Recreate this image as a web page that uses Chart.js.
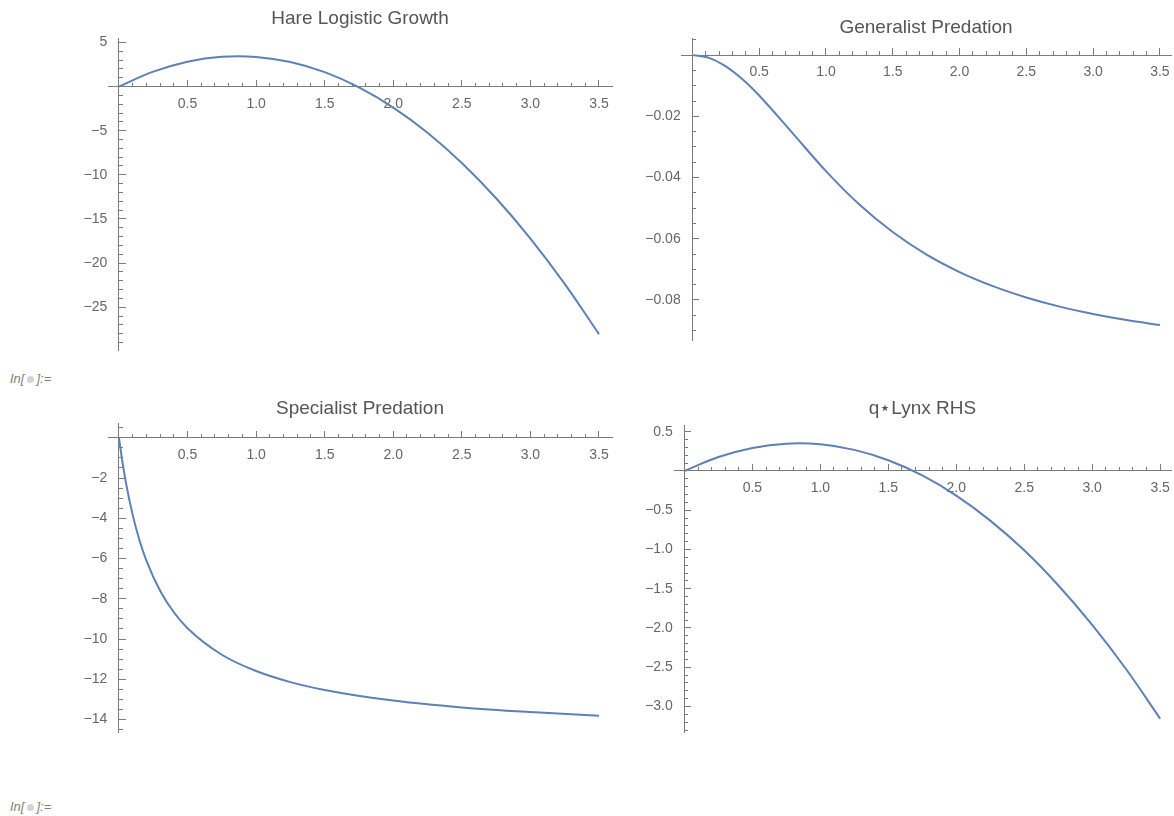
<!DOCTYPE html>
<html>
<head>
<meta charset="utf-8">
<script src="https://cdn.jsdelivr.net/npm/chart.js@4.4.1/dist/chart.umd.min.js"></script>
<style>
body { margin:0; background:#fff; width:1174px; height:816px; position:relative; overflow:hidden; font-family:"Liberation Sans", Arial, sans-serif; }
.plot { position:absolute; }
.inLabel { position:absolute; left:10px; font-size:13px; line-height:15px; font-style:italic; color:#808080; }
.inLabel i { display:inline-block; width:7px; height:7px; border-radius:50%; background:#d4d4d4; margin:0 2px 0 3px; vertical-align:0px; }
</style>
</head>
<body>
<canvas id="hare" class="plot" width="590" height="360" style="left:40px;top:0px"></canvas>
<canvas id="generalist" class="plot" width="574" height="360" style="left:620px;top:0px"></canvas>
<canvas id="specialist" class="plot" width="590" height="360" style="left:40px;top:390px"></canvas>
<canvas id="lynx" class="plot" width="574" height="360" style="left:620px;top:390px"></canvas>
<div class="inLabel" style="top:371px">In[<i></i>]:=</div>
<div class="inLabel" style="top:799px">In[<i></i>]:=</div>
<script>
// values
var xs = [0, 0.25, 0.5, 0.75, 1.0, 1.25, 1.5, 1.75, 2.0, 2.25, 2.5, 2.75, 3.0, 3.25, 3.5];
var hareGrowth = [0, 1.69, 2.82, 3.37, 3.36, 2.78, 1.63, -0.09, -2.38, -5.23, -8.66, -12.66, -17.22, -22.35, -28.05];
var generalistX = [0, 0.125, 0.25, 0.375, 0.5, 0.75, 1.0, 1.25, 1.5, 1.75, 2.0, 2.25, 2.5, 2.75, 3.0, 3.25, 3.5];
var generalistPred = [0, -0.0009, -0.0037, -0.0079, -0.0132, -0.0255, -0.0379, -0.0488, -0.0578, -0.0651, -0.0709, -0.0755, -0.0792, -0.0822, -0.0846, -0.0866, -0.0882];
var specialistX = [0, 0.025, 0.05, 0.1, 0.15, 0.2, 0.3, 0.4, 0.5, 0.75, 1.0, 1.25, 1.5, 2.0, 2.5, 3.0, 3.5];
var specialistPred = [0, -1.19, -2.2, -3.83, -5.1, -6.1, -7.6, -8.67, -9.46, -10.78, -11.59, -12.14, -12.53, -13.06, -13.4, -13.63, -13.81];
var lynxRHS = [0, 0.178, 0.294, 0.348, 0.34, 0.269, 0.137, -0.057, -0.314, -0.632, -1.01, -1.455, -1.96, -2.526, -3.155];

var fontFamily = '"Liberation Sans", Arial, sans-serif';
var axisColor = '#7b7b7b';
var labelColor = '#666666';
var lineColor = '#5e81b5';

function fmt(decimals, tail) {
    return function (v) {
        if (Math.abs(v) < 1e-9) return '';
        var s = Math.abs(v).toFixed(decimals);
        return (v < 0 ? '\u2212' + s : s) + tail;
    };
}

// role: 'labels' draws the axis line and the numbers, 'major'/'minor' only the tick marks
function axis(dir, opts, role) {
    var step = dir == 'x' ? (role == 'minor' ? 0.1 : 0.5) : (role == 'minor' ? opts.yMinorStep : opts.yStep);
    var dec = dir == 'x' ? 1 : opts.yDec;
    var isLabels = role == 'labels';
    return {
        type: 'linear',
        axis: dir,
        min: opts[dir + 'Min'],
        max: opts[dir + 'Max'],
        position: dir == 'x' ? {y: 0} : {x: 0},
        ticks: {
            stepSize: step,
            includeBounds: false,
            autoSkip: false,
            maxRotation: 0,
            display: isLabels,
            color: labelColor,
            font: {family: fontFamily, size: 14},
            padding: 0,
            callback: fmt(dec, dir == 'y' ? '\u2002\u2004' : '')
        },
        grid: {
            display: !isLabels,
            drawOnChartArea: false,
            drawTicks: true,
            tickLength: isLabels ? 9 : (role == 'major' ? -7 : -4),
            tickColor: axisColor,
            tickWidth: 1
        },
        border: {display: isLabels, color: axisColor, width: 1}
    };
}

function makePlot(id, title, xVals, yVals, opts) {
    var pts = xVals.map(function (x, i) { return {x: x, y: yVals[i]}; });
    return new Chart(document.getElementById(id), {
        type: 'line',
        data: {
            datasets: [{
                data: pts,
                borderColor: lineColor,
                borderWidth: 2,
                pointRadius: 0,
                fill: false,
                tension: 0.4,
                cubicInterpolationMode: opts.mono ? 'monotone' : 'default'
            }]
        },
        options: {
            responsive: false,
            animation: false,
            events: [],
            layout: {padding: opts.pad},
            plugins: {
                legend: {display: false},
                tooltip: {enabled: false},
                title: {
                    display: true,
                    text: title,
                    color: '#555555',
                    font: {family: fontFamily, size: 19, weight: 'normal', lineHeight: 1},
                    padding: opts.titlePad
                }
            },
            scales: {
                x: axis('x', opts, 'labels'),
                xMajor: axis('x', opts, 'major'),
                xMinor: axis('x', opts, 'minor'),
                y: axis('y', opts, 'labels'),
                yMajor: axis('y', opts, 'major'),
                yMinor: axis('y', opts, 'minor')
            }
        }
    });
}

makePlot('hare', 'Hare Logistic Growth', xs, hareGrowth, {
    xMin: -0.08, xMax: 3.595, yMin: -29.85, yMax: 5.5,
    yStep: 5, yMinorStep: 1, yDec: 0,
    pad: {left: 68, right: 18, top: 0, bottom: 10},
    titlePad: {top: 9, bottom: 10}
});
makePlot('generalist', 'Generalist Predation', generalistX, generalistPred, {
    xMin: -0.085, xMax: 3.583, yMin: -0.0931, yMax: 0.0056,
    yStep: 0.02, yMinorStep: 0.005, yDec: 2, mono: true,
    pad: {left: 61, right: 23, top: 0, bottom: 20},
    titlePad: {top: 18.5, bottom: 0.5}
});
makePlot('specialist', 'Specialist Predation', specialistX, specialistPred, {
    xMin: -0.08, xMax: 3.595, yMin: -14.62, yMax: 0.72,
    yStep: 2, yMinorStep: 0.5, yDec: 0, mono: true,
    pad: {left: 68, right: 18, top: 0, bottom: 18},
    titlePad: {top: 9.5, bottom: 4.8}
});
makePlot('lynx', 'q\u22c6Lynx RHS', xs, lynxRHS, {
    xMin: -0.077, xMax: 3.58, yMin: -3.325, yMax: 0.586,
    yStep: 0.5, yMinorStep: 0.1, yDec: 1,
    pad: {left: 54, right: 23, top: 0, bottom: 18},
    titlePad: {top: 9.5, bottom: 6.5}
});
</script>
</body>
</html>
